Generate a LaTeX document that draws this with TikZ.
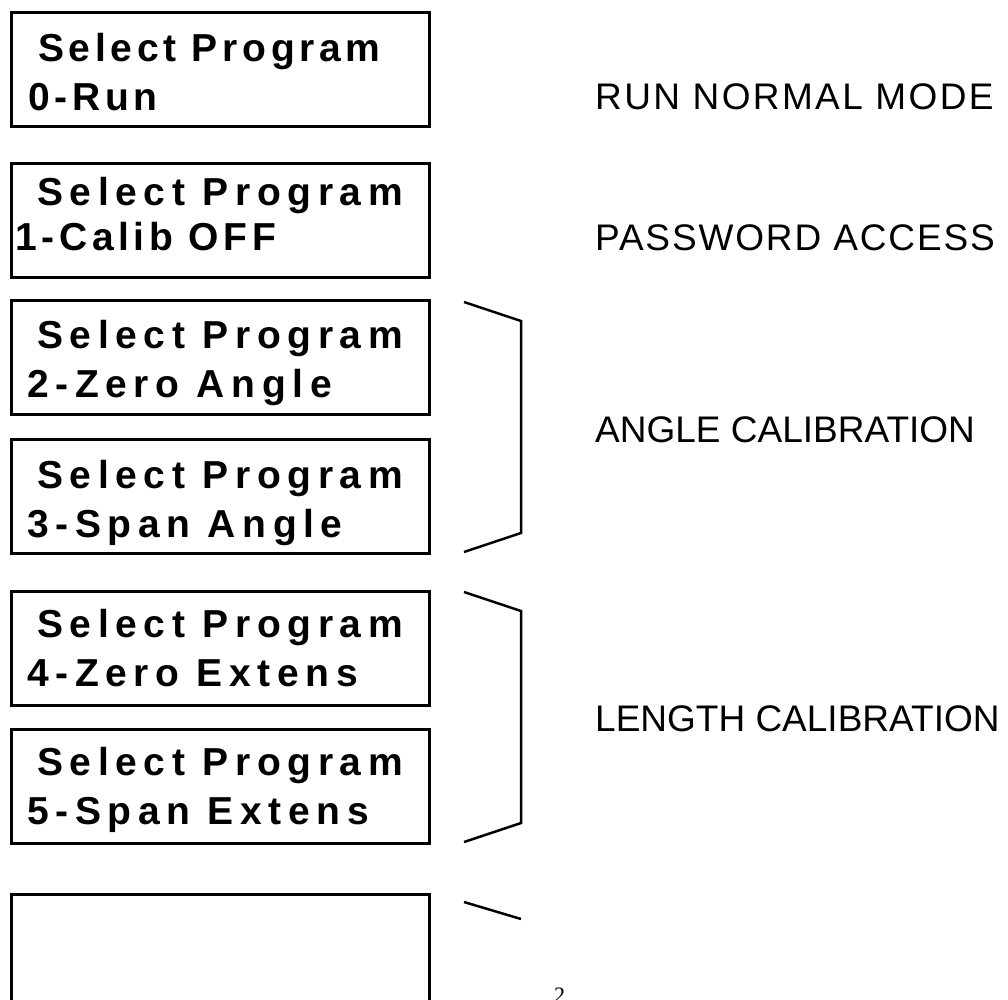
\documentclass[tikz,border=0pt]{standalone}
\usepackage{fontspec}
\setmainfont{Liberation Sans}
\newfontfamily\lcdA{Liberation Sans}[LetterSpace=12]
\newfontfamily\lcdB{Liberation Sans}[LetterSpace=17]
\newfontfamily\lblA{Liberation Sans}[LetterSpace=6.4]
\newfontfamily\lblB{Liberation Sans}[LetterSpace=5]
\newfontfamily\lblC{Liberation Sans}
\newfontfamily\pgfont{Liberation Serif}
\begin{document}
\begin{tikzpicture}[x=1pt,y=-1pt,
  lcd/.style={draw, line width=3pt, minimum width=418pt, minimum height=114pt, inner sep=0pt, anchor=north west},
  txt/.style={inner sep=0pt, anchor=base west, font=\fontsize{39}{41}\selectfont},
  lbl/.style={inner sep=0pt, anchor=base west, font=\fontsize{37}{40}\selectfont},
  brk/.style={line width=2.5pt}]
\useasboundingbox (0,0) rectangle (1008,999);
% boxes
\node[lcd] (box0) at (9.5,11) {};
\node[lcd] (box1) at (9.5,162) {};
\node[lcd] (box2) at (9.5,299) {};
\node[lcd] (box3) at (9.5,438) {};
\node[lcd] (box4) at (9.5,590) {};
\node[lcd] (box5) at (9.5,728) {};
\node[lcd] (box6) at (9.5,893) {};
% box texts
\node[txt] (t0a) at (38,61) {\lcdA\bfseries Select Program};
\node[txt] (t0b) at (28,110) {\lcdA\bfseries 0-Run};
\node[txt] (t1a) at (37,205) {\lcdB\bfseries Select Program};
\node[txt] (t1b) at (15,250) {\lcdA\bfseries 1-Calib OFF};
\node[txt] (t2a) at (37,348) {\lcdB\bfseries Select Program};
\node[txt] (t2b) at (27,397) {\lcdB\bfseries 2-Zero Angle};
\node[txt] (t3a) at (37,488) {\lcdB\bfseries Select Program};
\node[txt] (t3b) at (27,537) {\lcdB\bfseries 3-Span Angle};
\node[txt] (t4a) at (37,637) {\lcdB\bfseries Select Program};
\node[txt] (t4b) at (27,686) {\lcdB\bfseries 4-Zero Extens};
\node[txt] (t5a) at (37,775) {\lcdB\bfseries Select Program};
\node[txt] (t5b) at (27,824) {\lcdB\bfseries 5-Span Extens};
% right labels
\node[lbl] (l0) at (595,109) {\lblA RUN NORMAL MODE};
\node[lbl] (l1) at (595,250) {\lblB PASSWORD ACCESS};
\node[lbl] (l2) at (595,442) {\lblC ANGLE CALIBRATION};
\node[lbl] (l3) at (595,731) {\lblC LENGTH CALIBRATION};
\node[inner sep=0pt, anchor=base west, font=\fontsize{22}{24}\selectfont] (pg) at (554,1002) {\pgfont 2};
% brackets
\coordinate (b1a) at (464,302);
\coordinate (b1b) at (521,321);
\coordinate (b1c) at (521,533);
\coordinate (b1d) at (464,552);
\draw[brk] (b1a) -- (b1b) -- (b1c) -- (b1d);
\coordinate (b2a) at (464,592);
\coordinate (b2b) at (521,611);
\coordinate (b2c) at (521,823);
\coordinate (b2d) at (464,842);
\draw[brk] (b2a) -- (b2b) -- (b2c) -- (b2d);
\coordinate (b3a) at (464,902);
\coordinate (b3b) at (521,919);
\draw[brk] (b3a) -- (b3b);
\end{tikzpicture}
\end{document}
